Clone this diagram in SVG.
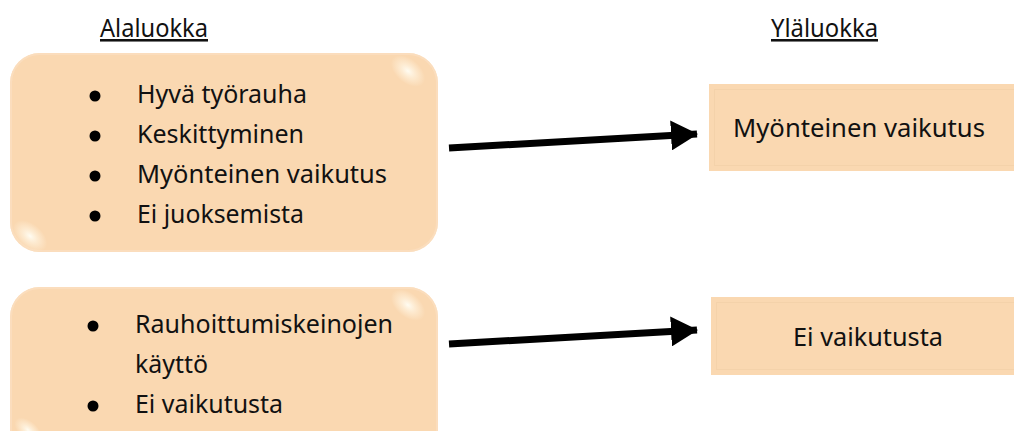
<svg xmlns="http://www.w3.org/2000/svg" width="1014" height="431" viewBox="0 0 1014 431">
  <defs>
    <style>
      .txt { font-family: "Noto Sans", "Open Sans", "Liberation Sans", sans-serif; font-size: 25.5px; fill: #111; }
      .hdr { text-decoration: underline; }
      .box { fill: #FAD8B1; }
      .rim { fill: none; stroke: #FBE0C2; stroke-width: 2; opacity: 0.7; }
      .bevel { fill: none; stroke: #F4D2AA; stroke-width: 1; }
      .dot { fill: #000; }
      .conn { stroke: #000; stroke-width: 7; fill: none; }
    </style>
    <radialGradient id="glow" cx="0.5" cy="0.5" r="0.5">
      <stop offset="0" stop-color="#FFFCF2" stop-opacity="1"/>
      <stop offset="0.5" stop-color="#FFF3DF" stop-opacity="0.6"/>
      <stop offset="1" stop-color="#FFF3DF" stop-opacity="0"/>
    </radialGradient>
    <marker id="head" viewBox="0 0 27 30" refX="26" refY="15" markerWidth="27" markerHeight="30" markerUnits="userSpaceOnUse" orient="auto">
      <path d="M0,0 L27,15 L0,30 Z" fill="#000"/>
    </marker>
  </defs>

  <!-- column headings -->
  <text class="txt hdr" x="100" y="37" textLength="108" lengthAdjust="spacingAndGlyphs">Alaluokka</text>
  <text class="txt hdr" x="771" y="37" textLength="107" lengthAdjust="spacingAndGlyphs">Yläluokka</text>

  <!-- lower grades: first list -->
  <g id="lower-1">
    <rect class="box" x="10" y="53" width="428" height="199" rx="30"/>
    <rect class="rim" x="11" y="54" width="426" height="197" rx="29"/>
    <ellipse cx="408" cy="71" rx="20" ry="12" transform="rotate(40 408 71)" fill="url(#glow)"/>
    <ellipse cx="30" cy="236" rx="20" ry="12" transform="rotate(40 30 236)" fill="url(#glow)"/>
    <circle class="dot" cx="95" cy="96" r="5.5"/>
    <circle class="dot" cx="95" cy="136" r="5.5"/>
    <circle class="dot" cx="95" cy="176" r="5.5"/>
    <circle class="dot" cx="95" cy="216" r="5.5"/>
    <text class="txt" x="137" y="103" textLength="170" lengthAdjust="spacingAndGlyphs">Hyvä työrauha</text>
    <text class="txt" x="137" y="143" textLength="167" lengthAdjust="spacingAndGlyphs">Keskittyminen</text>
    <text class="txt" x="137" y="183" textLength="250" lengthAdjust="spacingAndGlyphs">Myönteinen vaikutus</text>
    <text class="txt" x="137" y="223" textLength="167" lengthAdjust="spacingAndGlyphs">Ei juoksemista</text>
  </g>

  <!-- lower grades: second list -->
  <g id="lower-2">
    <rect class="box" x="10" y="287" width="428" height="180" rx="30"/>
    <rect class="rim" x="11" y="288" width="426" height="178" rx="29"/>
    <ellipse cx="408" cy="305" rx="20" ry="12" transform="rotate(40 408 305)" fill="url(#glow)"/>
    <ellipse cx="28" cy="430" rx="16" ry="9" transform="rotate(40 28 430)" fill="url(#glow)"/>
    <circle class="dot" cx="93" cy="326" r="5.5"/>
    <circle class="dot" cx="93" cy="406" r="5.5"/>
    <text class="txt" x="135" y="333" textLength="258" lengthAdjust="spacingAndGlyphs">Rauhoittumiskeinojen</text>
    <text class="txt" x="135" y="373" textLength="73" lengthAdjust="spacingAndGlyphs">käyttö</text>
    <text class="txt" x="135" y="413" textLength="148" lengthAdjust="spacingAndGlyphs">Ei vaikutusta</text>
  </g>

  <!-- upper grades: outcomes -->
  <g id="upper-1">
    <rect class="box" x="709" y="84" width="320" height="87"/>
    <rect class="bevel" x="714.5" y="89.5" width="310" height="76"/>
    <text class="txt" x="733" y="137" textLength="252" lengthAdjust="spacingAndGlyphs">Myönteinen vaikutus</text>
  </g>

  <g id="upper-2">
    <rect class="box" x="711" y="297" width="320" height="78"/>
    <rect class="bevel" x="716.5" y="302.5" width="310" height="67"/>
    <text class="txt" x="793" y="346" textLength="150" lengthAdjust="spacingAndGlyphs">Ei vaikutusta</text>
  </g>

  <!-- connectors -->
  <g id="connectors">
    <line class="conn" x1="449" y1="148" x2="697" y2="134" marker-end="url(#head)"/>
    <line class="conn" x1="449" y1="344" x2="697" y2="330" marker-end="url(#head)"/>
  </g>
</svg>
